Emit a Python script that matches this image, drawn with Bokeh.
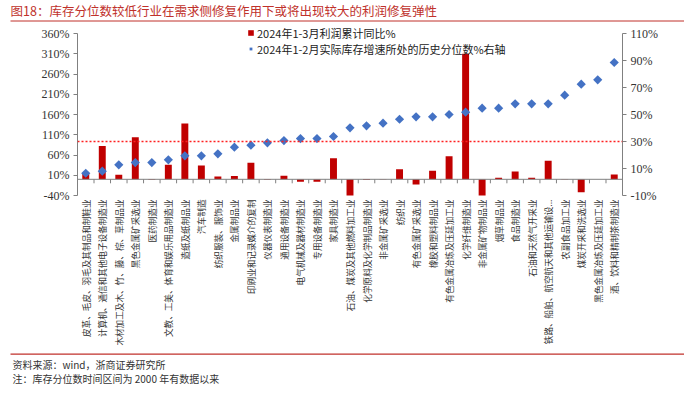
import math
from bokeh.plotting import figure
from bokeh.layouts import column
from bokeh.models import (FactorRange, Range1d, LinearAxis, FixedTicker, PrintfTickFormatter,
                          Span, Legend, LegendItem, ColumnDataSource)
from bokeh.transform import dodge
from bokeh.core.properties import value
from bokeh.embed import file_html
from bokeh.resources import INLINE

categories = [
    "皮革、毛皮、羽毛及其制品和制鞋业",
    "计算机、通信和其他电子设备制造业",
    "木材加工及木、竹、藤、棕、草制品业",
    "黑色金属矿采选业",
    "医药制造业",
    "文教、工美、体育和娱乐用品制造业",
    "造纸及纸制品业",
    "汽车制造",
    "纺织服装、服饰业",
    "金属制品业",
    "印刷业和记录媒介的复制",
    "仪器仪表制造业",
    "通用设备制造业",
    "电气机械及器材制造业",
    "专用设备制造业",
    "家具制造业",
    "石油、煤炭及其他燃料加工业",
    "化学原料及化学制品制造业",
    "非金属矿采选业",
    "纺织业",
    "有色金属矿采选业",
    "橡胶和塑料制品业",
    "有色金属冶炼及压延加工业",
    "化学纤维制造业",
    "非金属矿物制品业",
    "烟草制品业",
    "食品制造业",
    "石油和天然气开采业",
    "铁路、船舶、航空航天和其他运输设...",
    "农副食品加工业",
    "煤炭开采和洗选业",
    "黑色金属冶炼及压延加工业",
    "酒、饮料和精制茶制造业",
]

profit_yoy = [15, 82, 11, 104, -1, 36, 138, 34, 7, 8, 41, -1, 9, -6, -6, 52, -41,
              -2, 1, 25, -13, 21, 57, 310, -41, 4, 19, 4, 46, 1, -32, 0, 12]

inventory_pct = [6.5, 8, 12.7, 14.4, 14.4, 16.4, 19.4, 19.4, 20.9, 25.8, 27.3, 29, 30.7,
                 32.2, 32.2, 33.7, 40.1, 41.6, 43.6, 46.5, 48.3, 48.3, 50, 51.7, 54.7,
                 54.7, 57.9, 57.9, 57.9, 64.3, 72.5, 75.7, 88.5]

left_ticks = [-40, 10, 60, 110, 160, 210, 260, 310, 360]
right_ticks = [-10, 10, 30, 50, 70, 90, 110]
threshold = 30

title_text = "图18：库存分位数较低行业在需求侧修复作用下或将出现较大的利润修复弹性"
legend_bar = "2024年1-3月利润累计同比%"
legend_pt = "2024年1-2月实际库存增速所处的历史分位数%右轴"
source_text = "资料来源：wind，浙商证券研究所"
note_text = "注：库存分位数时间区间为 2000 年有数据以来"

W = 684
H_HEAD, H_MAIN, H_FOOT = 22, 327, 36

RED = "#c00000"
BLUE = "#4472c4"
AX = "#808080"
TITLE_RED = "#c0312b"
CJK = "Noto Sans CJK SC"

# ---------- header ----------
head = figure(width=W, height=H_HEAD, x_range=Range1d(0, W), y_range=Range1d(H_HEAD, 0),
              x_axis_type=None, y_axis_type=None, output_backend="svg", toolbar_location=None,
              min_border=0, frame_align=False)
head.outline_line_color = None
head.text(x=[10], y=[10], text=[title_text], text_font=value(CJK), text_font_size="12.5px",
          text_color=TITLE_RED, text_baseline="middle", text_align="left")
head.segment(x0=[10], x1=[W], y0=[20.5], y1=[20.5], line_color=TITLE_RED, line_width=1)

# ---------- main chart ----------
FL, FR = 77, 622          # frame left/right in px
FRAME_H = 173             # frame height in px
TOP_GAP = 11              # px between frame top and the top tick
unit_px = (FRAME_H - TOP_GAP) / (left_ticks[-1] - left_ticks[0])
y_end = left_ticks[-1] + TOP_GAP / unit_px
r_unit_px = (FRAME_H - TOP_GAP) / (right_ticks[-1] - right_ticks[0])
r_end = right_ticks[-1] + TOP_GAP / r_unit_px

p = figure(width=W, height=H_MAIN,
           x_range=FactorRange(factors=categories, range_padding=0),
           y_range=Range1d(left_ticks[0], y_end),
           output_backend="svg", toolbar_location=None,
           min_border_left=FL, min_border_right=W - FR,
           min_border_top=0, min_border_bottom=H_MAIN - FRAME_H, frame_align=False)
p.extra_y_ranges = {"right": Range1d(right_ticks[0], r_end)}
p.xgrid.visible = False
p.ygrid.visible = False
p.outline_line_color = None

left = p.left[0]
left.ticker = FixedTicker(ticks=left_ticks)
left.formatter = PrintfTickFormatter(format="%d%%")
left.bounds = (left_ticks[0], left_ticks[-1])
right = LinearAxis(y_range_name="right", ticker=FixedTicker(ticks=right_ticks),
                   formatter=PrintfTickFormatter(format="%d%%"),
                   bounds=(right_ticks[0], right_ticks[-1]))
p.add_layout(right, "right")
for ax in (left, right):
    ax.axis_line_color = AX
    ax.major_tick_line_color = AX
    ax.major_tick_in = 0
    ax.major_tick_out = 4
    ax.minor_tick_line_color = None
    ax.minor_tick_out = 0
    ax.major_label_text_font = "Liberation Serif"
    ax.major_label_text_font_size = "12px"
    ax.major_label_text_color = "#333333"
    ax.major_label_standoff = 4

xa = p.xaxis[0]
xa.axis_line_color = None
xa.major_tick_line_color = None
xa.minor_tick_line_color = None
xa.major_tick_in = 0
xa.major_tick_out = 0
xa.minor_tick_out = 0
xa.major_label_orientation = math.pi / 2
xa.major_label_text_font = CJK
xa.major_label_text_font_size = "8.6px"
xa.major_label_text_color = "#333333"
xa.major_label_standoff = 4

src = ColumnDataSource(dict(cat=categories, profit=profit_yoy, inv=inventory_pct))

p.add_layout(Span(location=0, dimension="width", line_color=AX, line_width=1))
tick_src = ColumnDataSource(dict(c=categories[:-1]))
p.segment(x0=dodge("c", 0.5, range=p.x_range), x1=dodge("c", 0.5, range=p.x_range),
          y0=0, y1=-4 / unit_px, source=tick_src, line_color=AX, line_width=1)

p.add_layout(Span(location=threshold, dimension="width", y_range_name="right",
                  line_color="#ff2020", line_dash="2 2", line_width=1.3))

bars = p.vbar(x="cat", top="profit", width=0.42, source=src, fill_color=RED, line_color=None)
pts = p.scatter(x="cat", y="inv", y_range_name="right", source=src, marker="square",
                angle=math.pi / 4, size=6.5, fill_color=BLUE, line_color=None)

legend = Legend(items=[LegendItem(label=legend_bar, renderers=[bars]),
                       LegendItem(label=legend_pt, renderers=[pts])],
                location=(170, FRAME_H - 34.5), background_fill_alpha=0,
                border_line_color=None, label_text_font=CJK, label_text_font_size="11px",
                label_text_color="#222222", glyph_width=7, glyph_height=7,
                label_standoff=3, spacing=0, padding=0, margin=0, label_height=14)
p.add_layout(legend)

# ---------- footer ----------
foot = figure(width=W, height=H_FOOT, x_range=Range1d(0, W), y_range=Range1d(H_FOOT, 0),
              x_axis_type=None, y_axis_type=None, output_backend="svg", toolbar_location=None,
              min_border=0, frame_align=False)
foot.outline_line_color = None
foot.quad(left=[10], right=[W], top=[4], bottom=[5.2], fill_color=TITLE_RED,
          line_color=None)
foot.text(x=[12, 12], y=[15, 28.5], text=[source_text, note_text], text_font=value(CJK),
          text_font_size="10px", text_color="#333333", text_baseline="middle",
          text_align="left")

layout = column(head, p, foot, spacing=0)
open("out.html", "w").write(file_html(layout, INLINE))
